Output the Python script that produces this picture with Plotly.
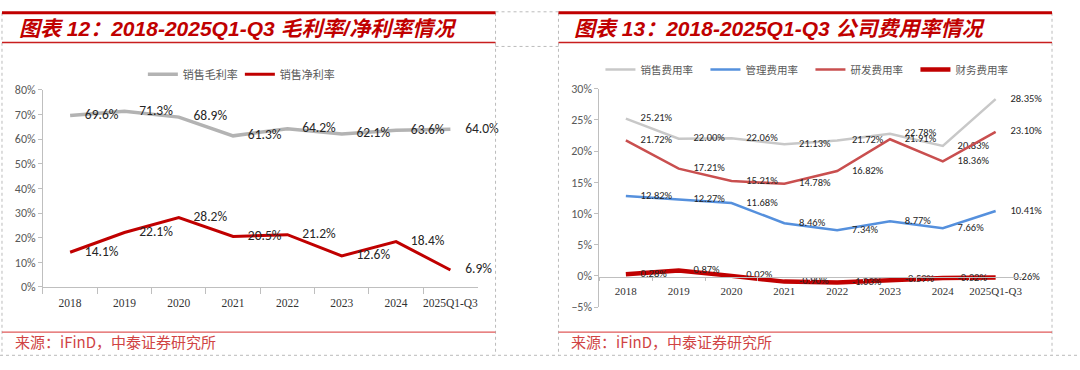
import plotly.graph_objects as go

# ---------------- data ----------------
years = ["2018", "2019", "2020", "2021", "2022", "2023", "2024", "2025Q1-Q3"]
gross_margin = [69.6, 71.3, 68.9, 61.3, 64.2, 62.1, 63.6, 64.0]
net_margin = [14.1, 22.1, 28.2, 20.5, 21.2, 12.6, 18.4, 6.9]

sales_exp = [25.21, 22.00, 22.06, 21.13, 21.72, 22.78, 20.83, 28.35]
admin_exp = [12.82, 12.27, 11.68, 8.46, 7.34, 8.77, 7.66, 10.41]
rd_exp = [21.72, 17.21, 15.21, 14.78, 16.82, 21.91, 18.36, 23.10]
fin_exp = [0.28, 0.87, 0.02, -0.90, -1.03, -0.59, -0.32, -0.26]

title_left = "图表 12：2018-2025Q1-Q3 毛利率/净利率情况"
title_right = "图表 13：2018-2025Q1-Q3 公司费用率情况"
source_text = "来源：iFinD，中泰证券研究所"

# ---------------- layout helpers ----------------
W, H = 1080, 370
def px(x):
    return x / W
def py(y):
    return 1 - y / H

LABEL = "Carlito, Liberation Sans, sans-serif"
SERIF = "Liberation Serif, Times New Roman, serif"
CJK = "Noto Sans CJK SC, sans-serif"
DARK_RED = "#C00000"

fig = go.Figure()

def add_line(x, y, name, color, width, xa, ya, legend, fsize, fmt):
    fig.add_trace(go.Scatter(
        x=x, y=y, name=name, mode="lines+markers+text",
        line=dict(color=color, width=width),
        marker=dict(size=22, color="rgba(0,0,0,0)"),
        text=[fmt.format(v) for v in y],
        textposition="middle right",
        textfont=dict(family=LABEL, size=fsize, color="#262626"),
        cliponaxis=False,
        xaxis=xa, yaxis=ya, legend=legend, hoverinfo="skip",
    ))

# left panel
add_line(years, gross_margin, "销售毛利率", "#B3B3B3", 3.5, "x", "y", "legend", 13.5, "{:.1f}%")
add_line(years, net_margin, "销售净利率", DARK_RED, 3, "x", "y", "legend", 13.5, "{:.1f}%")
# right panel
add_line(years, sales_exp, "销售费用率", "#C8C8C8", 2.5, "x2", "y2", "legend2", 10.5, "{:.2f}%")
add_line(years, admin_exp, "管理费用率", "#5590DD", 2.5, "x2", "y2", "legend2", 10.5, "{:.2f}%")
add_line(years, rd_exp, "研发费用率", "#C94F4F", 2.5, "x2", "y2", "legend2", 10.5, "{:.2f}%")
add_line(years, fin_exp, "财务费用率", DARK_RED, 4.5, "x2", "y2", "legend2", 10.5, "{:.2f}%")

axis_common = dict(showgrid=False, zeroline=False, showline=True, linecolor="#BFBFBF",
                   linewidth=1, ticks="outside", tickcolor="#BFBFBF", fixedrange=True)

fig.update_layout(
    width=W, height=H,
    margin=dict(l=0, r=0, t=0, b=0),
    paper_bgcolor="white", plot_bgcolor="white",
    xaxis=dict(domain=[px(43), px(478)], anchor="y", type="category",
               range=[-0.5, 7.5], tickson="boundaries", ticklen=6, tickangle=0,
               ticklabelstandoff=5,
               tickfont=dict(family=SERIF, size=11.5, color="#333333"), **axis_common),
    yaxis=dict(domain=[py(291), py(86)], anchor="x", range=[0, 80], dtick=10,
               ticksuffix="%", ticklen=4,
               tickfont=dict(family=LABEL, size=12, color="#595959"), **axis_common),
    xaxis2=dict(domain=[px(600), px(1023)], anchor="free", position=py(281),
                type="category", range=[-0.5, 7.5], tickson="boundaries", ticklen=3,
                tickangle=0, ticklabelstandoff=3,
                tickfont=dict(family=SERIF, size=11, color="#333333"), **axis_common),
    yaxis2=dict(domain=[py(312), py(85)], anchor="x2", range=[-5, 30], dtick=5,
                ticksuffix="%", ticklen=4,
                tickfont=dict(family=LABEL, size=12, color="#595959"), **axis_common),
    legend=dict(orientation="h", x=px(143), y=py(70), xanchor="left", yanchor="middle",
                entrywidth=52, entrywidthmode="pixels",
                font=dict(family=CJK, size=11, color="#595959"), bgcolor="rgba(0,0,0,0)"),
    legend2=dict(orientation="h", x=px(601), y=py(65), xanchor="left", yanchor="middle",
                 entrywidth=60, entrywidthmode="pixels",
                 font=dict(family=CJK, size=10.5, color="#595959"), bgcolor="rgba(0,0,0,0)"),
    showlegend=True,
)

# ---------------- frame decorations ----------------
shapes = []
def hline(x0, x1, y, color, width, dash="solid"):
    shapes.append(dict(type="line", xref="paper", yref="paper", x0=px(x0), x1=px(x1),
                       y0=py(y), y1=py(y), line=dict(color=color, width=width, dash=dash)))
def vline(x, y0, y1, color, width, dash="solid"):
    shapes.append(dict(type="line", xref="paper", yref="paper", x0=px(x), x1=px(x),
                       y0=py(y0), y1=py(y1), line=dict(color=color, width=width, dash=dash)))

GRAYD = "#BBBBBB"
vline(2, 6, 362, GRAYD, 1, "dot")
vline(496, 6, 362, GRAYD, 1, "dot")
vline(559, 6, 362, GRAYD, 1, "dot")
vline(1053, 6, 362, GRAYD, 1, "dot")
hline(0, 1080, 362, GRAYD, 1, "dot")
hline(496, 559, 5, GRAYD, 1, "dot")
hline(496, 559, 41, GRAYD, 1, "dot")

for x0, x1 in [(2, 496), (559, 1053)]:
    hline(x0, x1, 6, DARK_RED, 3)
    hline(x0, x1, 37, "#C81E1E", 1.5)
    hline(x0, x1, 338, "#E05A5A", 1.2)

fig.update_layout(shapes=shapes)

# ---------------- titles and sources ----------------
TITLE_FONT = dict(family="Liberation Sans, Noto Sans CJK SC, sans-serif", size=21, color=DARK_RED)
for x, t in [(17, title_left), (573, title_right)]:
    fig.add_annotation(text=f"<b><i>{t}</i></b>", xref="paper", yref="paper",
                       x=px(x), y=py(22), xanchor="left", yanchor="middle",
                       showarrow=False, font=TITLE_FONT)
for x in [13, 570]:
    fig.add_annotation(text=source_text, xref="paper", yref="paper",
                       x=px(x), y=py(348), xanchor="left", yanchor="middle",
                       showarrow=False, font=dict(family=CJK, size=15, color="#D04444"))

fig.write_html("out.html", config={"displayModeBar": False},
               post_script="document.documentElement.style.margin='0';"
                           "document.body.style.margin='0';document.body.style.padding='0';"
                           "document.body.style.overflow='hidden';")
